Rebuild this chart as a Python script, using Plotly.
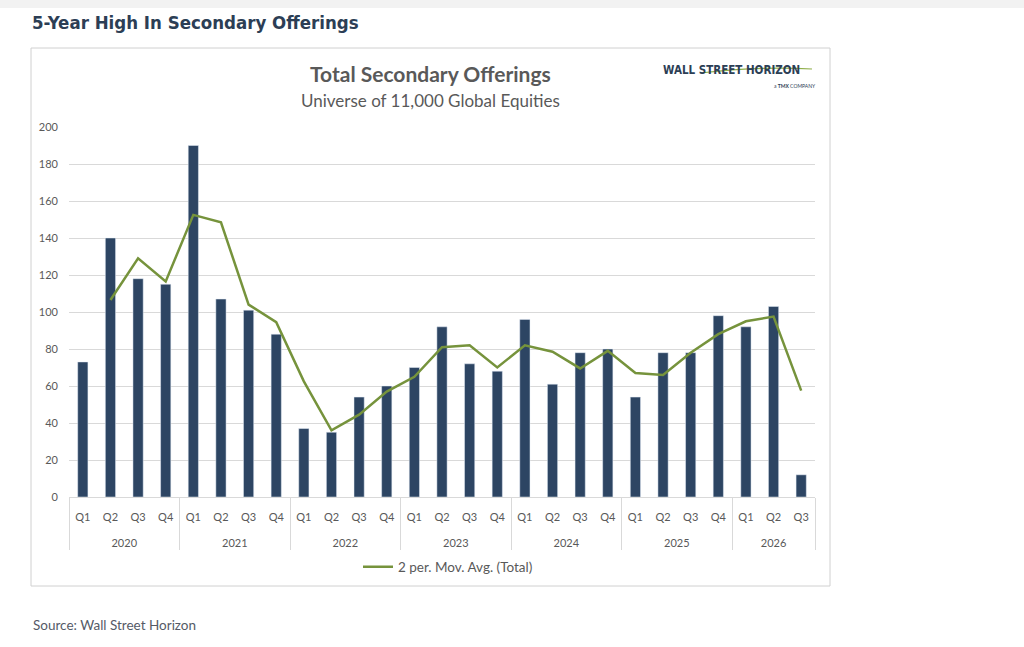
import plotly.graph_objects as go

years = ["2020"] * 4 + ["2021"] * 4 + ["2022"] * 4 + ["2023"] * 4 + ["2024"] * 4 + ["2025"] * 4 + ["2026"] * 3
quarters = ["Q1", "Q2", "Q3", "Q4"] * 6 + ["Q1", "Q2", "Q3"]
totals = [73, 140, 118, 115, 190, 107, 101, 88, 37, 35, 54, 60, 70, 92, 72, 68,
          96, 61, 78, 80, 54, 78, 78, 98, 92, 103, 12]
mov_avg = [None, 106.5, 129, 116.5, 152.5, 148.5, 104, 94.5, 62.5, 36, 44.5, 57, 65, 81, 82, 70,
           82, 78.5, 69.5, 79, 67, 66, 78, 88, 95, 97.5, 57.5]
y_ticks = [0, 20, 40, 60, 80, 100, 120, 140, 160, 180, 200]

W, H = 1024, 647
L, R, T, B = 69, 815, 127, 497
pw, ph = R - L, B - T

def px(x):
    return (x - L) / pw

def py(y):
    return (B - y) / ph

gray = "#595959"
navy = "#2c3e55"
cond = "DejaVu Sans Condensed, Liberation Sans Narrow, sans-serif"

# quarter labels padded with a spacer line so the year row sits lower
q_labels = [q + "<br><span style='font-size:28px'> </span>" for q in quarters]
xcat = [years, q_labels]

fig = go.Figure()
fig.add_trace(go.Bar(x=xcat, y=totals, marker_color="#2d4563",
                     width=0.37, showlegend=False, name="Total"))
fig.add_trace(go.Scatter(x=xcat, y=mov_avg, mode="lines",
                         line=dict(color="#76933c", width=2.5),
                         name="2 per. Mov. Avg. (Total)"))

fig.update_layout(
    width=W, height=H,
    margin=dict(l=L, r=W - R, t=T, b=H - B),
    paper_bgcolor="white", plot_bgcolor="white",
    font=dict(family="Lato, Open Sans, sans-serif", color=gray, size=11),
    legend=dict(orientation="h", x=px(448), y=py(567), xanchor="center", yanchor="middle",
                font=dict(size=13.5, color=gray), bgcolor="rgba(0,0,0,0)"),
    xaxis=dict(type="multicategory", showgrid=False, showline=True, linecolor="#d9d9d9",
               showdividers=True, dividercolor="#d9d9d9", dividerwidth=1,
               tickfont=dict(size=11, color=gray), ticks="", ticklabelstandoff=10),
    yaxis=dict(range=[0, 200], tickvals=y_ticks, showgrid=True, gridcolor="#d9d9d9",
               gridwidth=1, zeroline=False, showline=False, ticks="",
               ticklabelstandoff=10, tickfont=dict(size=11, color=gray)),
)

shapes = [
    dict(type="rect", xref="paper", yref="paper", x0=px(31), x1=px(830), y0=py(586), y1=py(48),
         line=dict(color="#d0d0d0", width=1), fillcolor="rgba(0,0,0,0)", layer="below"),
    dict(type="rect", xref="paper", yref="paper", x0=px(0), x1=px(1024), y0=py(8), y1=py(0),
         line=dict(width=0), fillcolor="#f2f2f2", layer="below"),
    dict(type="path", xref="paper", yref="paper",
         path=f"M {px(700)} {py(73)} Q {px(760)} {py(66)} {px(812)} {py(69)}",
         line=dict(color="#8fae4a", width=1.2)),
]
fig.update_layout(shapes=shapes)

ann = [
    dict(text="<b>5-Year High In Secondary Offerings</b>", x=px(30), y=py(22), xanchor="left",
         yanchor="middle", font=dict(family=cond, size=18.5, color=navy)),
    dict(text="<b>Total Secondary Offerings</b>", x=px(430), y=py(74), xanchor="center",
         yanchor="middle", font=dict(size=21, color=gray)),
    dict(text="Universe of 11,000 Global Equities", x=px(430), y=py(100), xanchor="center",
         yanchor="middle", font=dict(size=17, color=gray)),
    dict(text="<b>WALL STREET HORIZON</b>", x=px(731), y=py(70), xanchor="center",
         yanchor="middle", font=dict(family=cond, size=11.5, color=navy)),
    dict(text="a <b>TMX</b> COMPANY", x=px(795), y=py(86), xanchor="center",
         yanchor="middle", font=dict(size=5, color=navy)),
    dict(text="Source: Wall Street Horizon", x=px(31), y=py(625), xanchor="left",
         yanchor="middle", font=dict(size=13.5, color="#555a66")),
]
for a in ann:
    a.update(xref="paper", yref="paper", showarrow=False)
fig.update_layout(annotations=ann)

fig.write_html("out.html")
